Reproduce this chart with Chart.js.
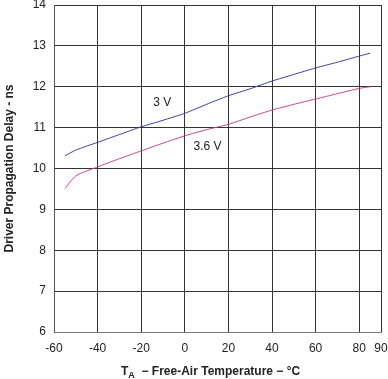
<!DOCTYPE html>
<html>
<head>
<meta charset="utf-8">
<script src="https://cdn.jsdelivr.net/npm/chart.js@4/dist/chart.umd.min.js"></script>
<style>
  html, body { margin: 0; padding: 0; background: #fff; }
  #wrap { width: 388px; height: 379px; }
</style>
</head>
<body>
<div id="wrap"><canvas id="myChart" width="388" height="379"></canvas></div>
<script>
// temperature points (deg C) and delay (ns)
var temps = [-55, -50, -40, -30, -20, -10, 0, 10, 20, 30, 40, 50, 60, 70, 80, 85];
var delay3V = [10.31, 10.45, 10.64, 10.83, 11.02, 11.18, 11.35, 11.57, 11.78, 11.95, 12.14, 12.3, 12.46, 12.6, 12.75, 12.82];
var delay36V = [9.51, 9.82, 10.04, 10.24, 10.43, 10.62, 10.8, 10.95, 11.08, 11.26, 11.43, 11.57, 11.7, 11.83, 11.96, 12.0];

var xTicks = [-60, -40, -20, 0, 20, 40, 60, 80, 90];
var yTicks = [6, 7, 8, 9, 10, 11, 12, 13, 14];

// curve labels, in data units
var labels = [
  { text: '3 V', x: -14.5, y: 11.6 },
  { text: '3.6 V', x: 4, y: 10.53 }
];

function points(xs, ys) {
  var out = [];
  for (var i = 0; i < xs.length; i++) out.push({ x: xs[i], y: ys[i] });
  return out;
}

var textPlugin = {
  id: 'textPlugin',
  afterDraw: function(chart) {
    var ctx = chart.ctx;
    var xs = chart.scales.x, ys = chart.scales.y;
    ctx.save();
    ctx.fillStyle = '#222';
    ctx.font = '12px "Liberation Sans", Arial, sans-serif';
    ctx.textBaseline = 'middle';
    ctx.textAlign = 'left';
    labels.forEach(function(l) {
      ctx.fillText(l.text, xs.getPixelForValue(l.x), ys.getPixelForValue(l.y));
    });

    // x axis title with subscript
    ctx.font = 'bold 12px "Liberation Sans", Arial, sans-serif';
    var x = 121, y = 372;
    ctx.fillText('T', x, y);
    x += ctx.measureText('T').width;
    ctx.font = 'bold 9px "Liberation Sans", Arial, sans-serif';
    ctx.fillText('A', x, y + 4);
    x += ctx.measureText('A').width;
    ctx.font = 'bold 12px "Liberation Sans", Arial, sans-serif';
    ctx.fillText('  \u2212 Free-Air Temperature \u2212 \u00B0C', x, y);

    // y axis title
    ctx.translate(10, (ys.top + ys.bottom) / 2);
    ctx.rotate(-Math.PI / 2);
    ctx.textAlign = 'center';
    ctx.fillText('Driver Propagation Delay - ns', 0, 0);
    ctx.restore();
  }
};

window.addEventListener('load', function() {
  var ctx = document.getElementById('myChart').getContext('2d');
  var chart = new Chart(ctx, {
    type: 'line',
    data: {
      datasets: [{
        label: '3 V',
        data: points(temps, delay3V),
        borderColor: '#3d3d9e',
        borderWidth: 1,
        pointRadius: 0,
        tension: 0.2,
        fill: false
      }, {
        label: '3.6 V',
        data: points(temps, delay36V),
        borderColor: '#c2448f',
        borderWidth: 1,
        pointRadius: 0,
        tension: 0.2,
        fill: false
      }]
    },
    options: {
      responsive: false,
      animation: false,
      events: [],
      layout: { padding: { left: 0, right: 7, top: 5, bottom: 0 } },
      plugins: { legend: { display: false }, tooltip: { enabled: false } },
      scales: {
        x: {
          type: 'linear',
          min: -60,
          max: 90,
          afterBuildTicks: function(scale) {
            scale.ticks = xTicks.map(function(v) { return { value: v }; });
          },
          afterFit: function(scale) {
            scale.height = 47;
            scale.paddingLeft = 0;
            scale.paddingRight = 0;
          },
          grid: { color: '#333', lineWidth: 1, drawTicks: false },
          border: { color: '#777', width: 1 },
          ticks: {
            color: '#222',
            padding: 9,
            maxRotation: 0,
            autoSkip: false,
            font: { family: '"Liberation Sans", Arial, sans-serif', size: 12 }
          }
        },
        y: {
          type: 'linear',
          min: 6,
          max: 14,
          afterBuildTicks: function(scale) {
            scale.ticks = yTicks.map(function(v) { return { value: v }; });
          },
          afterFit: function(scale) {
            scale.width = 54;
            scale.paddingTop = 0;
            scale.paddingBottom = 0;
          },
          grid: { color: '#333', lineWidth: 1, drawTicks: false },
          border: { color: '#555', width: 1 },
          ticks: {
            color: '#222',
            padding: 8,
            font: { family: '"Liberation Sans", Arial, sans-serif', size: 12 }
          }
        }
      }
    },
    plugins: [textPlugin]
  });
});
</script>
</body>
</html>
